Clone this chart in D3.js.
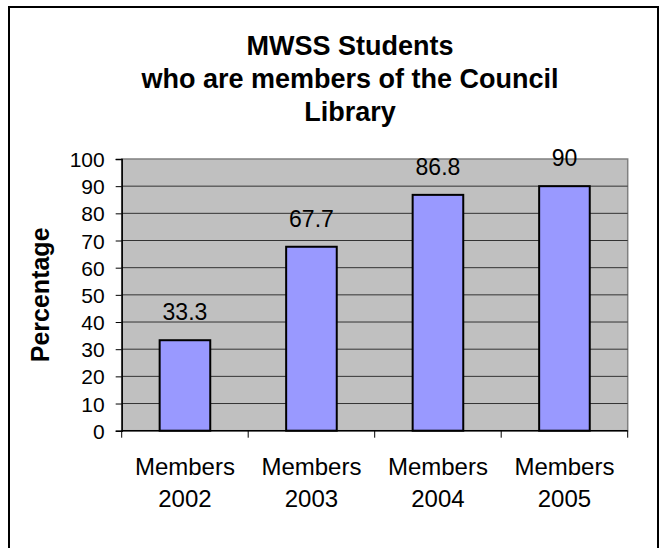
<!DOCTYPE html>
<html>

<head>
    <style>
        body {
            margin: 0;
            background: #ffffff;
        }

        text {
            font-family: "Liberation Sans", Arial, sans-serif;
            fill: #000000;
        }

        .title {
            font-size: 27px;
            font-weight: bold;
            text-anchor: middle;
        }

        .ytitle {
            font-size: 25px;
            font-weight: bold;
            text-anchor: middle;
        }

        .yaxis text {
            font-size: 21px;
        }

        .cat text {
            font-size: 24px;
            text-anchor: middle;
        }

        .value {
            font-size: 23px;
            text-anchor: middle;
        }

        .bar {
            fill: #9999ff;
            stroke: #000000;
            stroke-width: 2px;
        }
    </style>
    <script src="https://d3js.org/d3.v7.min.js"></script>
</head>

<body>
    <svg width="659" height="548"></svg>
    <script>
        var titleLines = ["MWSS Students", "who are members of the Council", "Library"];
        var categories = ["Members 2002", "Members 2003", "Members 2004", "Members 2005"];
        var values = [33.3, 67.7, 86.8, 90];
        var yTicks = [0, 10, 20, 30, 40, 50, 60, 70, 80, 90, 100];
        var yLabel = "Percentage";

        var svg = d3.select("svg");

        // outer chart frame (bottom edge falls outside the picture)
        svg.append("rect")
            .attr("x", 9)
            .attr("y", 7)
            .attr("width", 649)
            .attr("height", 600)
            .attr("fill", "#ffffff")
            .attr("stroke", "#000000")
            .attr("stroke-width", 2);

        var plotLeft = 121.7, plotRight = 627.7, plotTop = 159, plotBottom = 430.7;

        var x = d3.scaleBand()
            .domain(categories)
            .range([plotLeft, plotRight])
            .paddingInner(0.6)
            .paddingOuter(0.3);

        var y = d3.scaleLinear()
            .domain([0, 100])
            .range([plotBottom, plotTop]);

        // plot area
        svg.append("rect")
            .attr("x", plotLeft)
            .attr("y", plotTop)
            .attr("width", plotRight - plotLeft)
            .attr("height", plotBottom - plotTop)
            .attr("fill", "#c0c0c0")
            .attr("stroke", "#808080")
            .attr("stroke-width", 1.5);

        // gridlines
        svg.append("g")
            .selectAll("line")
            .data(yTicks.filter(function (d) { return d > 0 && d < 100; }))
            .enter().append("line")
            .attr("x1", plotLeft)
            .attr("x2", plotRight)
            .attr("y1", function (d) { return y(d); })
            .attr("y2", function (d) { return y(d); })
            .attr("stroke", "#333333")
            .attr("stroke-width", 1);

        // bars
        svg.append("g")
            .selectAll("rect")
            .data(values)
            .enter().append("rect")
            .attr("class", "bar")
            .attr("x", function (d, i) { return x(categories[i]); })
            .attr("y", function (d) { return y(d); })
            .attr("width", x.bandwidth())
            .attr("height", function (d) { return y(0) - y(d); });

        // value labels
        svg.append("g")
            .selectAll("text")
            .data(values)
            .enter().append("text")
            .attr("class", "value")
            .attr("x", function (d, i) { return x(categories[i]) + x.bandwidth() / 2; })
            .attr("y", function (d) { return y(d) - 20; })
            .text(function (d) { return d; });

        // y axis
        var yAxis = svg.append("g")
            .attr("class", "yaxis")
            .attr("transform", "translate(" + plotLeft + ",0)")
            .call(d3.axisLeft(y).tickValues(yTicks).tickSize(6).tickPadding(11));
        yAxis.select(".domain").attr("stroke", "#000000").attr("stroke-width", 1.5);
        yAxis.selectAll(".tick line").attr("stroke", "#000000");
        yAxis.selectAll("text").attr("dy", "0.36em");

        // x axis line and boundary ticks
        var gap = (x.step() - x.bandwidth()) / 2;
        var bounds = categories.map(function (c) { return x(c) - gap; }).concat([plotRight]);

        svg.append("line")
            .attr("x1", plotLeft)
            .attr("x2", plotRight)
            .attr("y1", y(0))
            .attr("y2", y(0))
            .attr("stroke", "#000000")
            .attr("stroke-width", 1.5);

        svg.append("g")
            .selectAll("line")
            .data(bounds)
            .enter().append("line")
            .attr("x1", function (d) { return d; })
            .attr("x2", function (d) { return d; })
            .attr("y1", y(0))
            .attr("y2", y(0) + 7)
            .attr("stroke", "#000000");

        // category labels, two lines each
        var cat = svg.append("g")
            .attr("class", "cat")
            .selectAll("text")
            .data(categories)
            .enter().append("text")
            .attr("x", function (d) { return x(d) + x.bandwidth() / 2; })
            .attr("y", 475);

        cat.append("tspan")
            .attr("x", function (d) { return x(d) + x.bandwidth() / 2; })
            .text(function (d) { return d.split(" ")[0]; });

        cat.append("tspan")
            .attr("x", function (d) { return x(d) + x.bandwidth() / 2; })
            .attr("dy", 31.7)
            .text(function (d) { return d.split(" ")[1]; });

        // y axis title
        svg.append("text")
            .attr("class", "ytitle")
            .attr("transform", "translate(48.6," + (plotTop + plotBottom) / 2 + ") rotate(-90)")
            .text(yLabel);

        // chart title
        svg.append("g")
            .selectAll("text")
            .data(titleLines)
            .enter().append("text")
            .attr("class", "title")
            .attr("x", 350)
            .attr("y", function (d, i) { return 55 + i * 33; })
            .text(function (d) { return d; });
    </script>
</body>

</html>
